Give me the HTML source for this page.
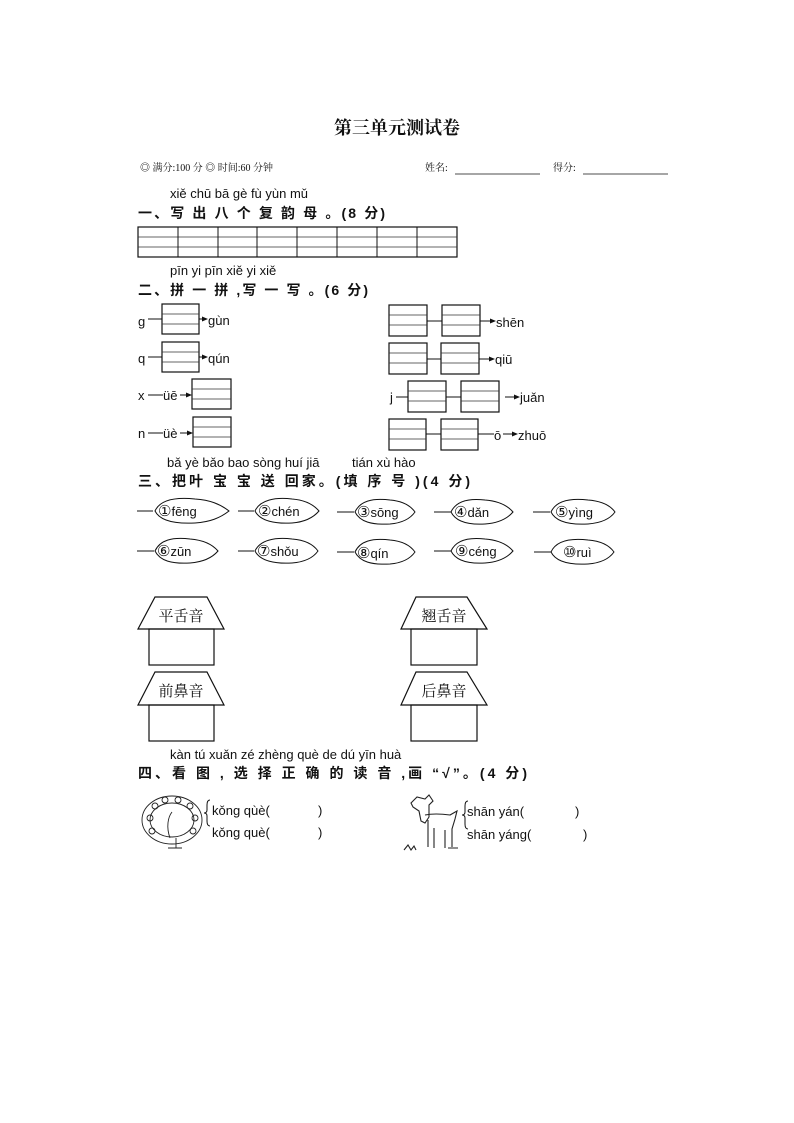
<!DOCTYPE html>
<html><head><meta charset="utf-8"><style>
html,body{margin:0;padding:0;background:#fff;}
svg{display:block}
.py{font-family:"Liberation Sans","DejaVu Sans",sans-serif;font-size:13px;fill:#111}
.hd{font-family:"Liberation Sans","Noto Sans CJK SC",sans-serif;font-size:14px;font-weight:bold;fill:#111}
.sm{font-family:"Liberation Serif","Noto Serif CJK SC",serif;font-size:10px;fill:#111}
.cj{font-family:"Liberation Serif","Noto Serif CJK SC",serif;font-size:15px;fill:#111}
.b{fill:none;stroke:#111;stroke-width:1.2}
.t{fill:none;stroke:#333;stroke-width:0.7}
.cn{font-family:"DejaVu Sans",sans-serif;font-size:15px}
</style></head><body>
<svg width="794" height="1123" viewBox="0 0 794 1123" xmlns="http://www.w3.org/2000/svg">
<defs>
<marker id="ar" markerWidth="6" markerHeight="6" refX="5" refY="3" orient="auto"><path d="M0,0.5 L6,3 L0,5.5z" fill="#111"/></marker>
</defs>
<text x="397" y="134" text-anchor="middle" font-family="Noto Serif CJK SC,serif" font-weight="bold" font-size="18" fill="#111">第三单元测试卷</text>
<text class="sm" x="140" y="171">◎ 满分:100 分  ◎ 时间:60 分钟</text>
<text class="sm" x="425" y="171" font-size="11">姓名:</text>
<line x1="455" y1="174" x2="540" y2="174" stroke="#111" stroke-width="0.8"/>
<text class="sm" x="553" y="171" font-size="11">得分:</text>
<line x1="583" y1="174" x2="668" y2="174" stroke="#111" stroke-width="0.8"/>

<text class="py" x="170" y="198">xiě chū bā gè  fù  yùn mǔ</text>
<text class="hd" x="138" y="218" textLength="247" lengthAdjust="spacing">一、写 出 八 个 复 韵 母 。(8 分)</text>
<rect class="b" x="138" y="227" width="319" height="30"/>
<line class="t" x1="138" y1="237" x2="457" y2="237"/><line class="t" x1="138" y1="247" x2="457" y2="247"/>
<g stroke="#111" stroke-width="1">
<line x1="178" y1="227" x2="178" y2="257"/><line x1="218" y1="227" x2="218" y2="257"/><line x1="257" y1="227" x2="257" y2="257"/><line x1="297" y1="227" x2="297" y2="257"/><line x1="337" y1="227" x2="337" y2="257"/><line x1="377" y1="227" x2="377" y2="257"/><line x1="417" y1="227" x2="417" y2="257"/>
</g>

<text class="py" x="170" y="275">pīn yi pīn  xiě yi xiě</text>
<text class="hd" x="138" y="295" textLength="230" lengthAdjust="spacing">二、拼 一 拼 ,写 一 写 。(6 分)</text>

<g>
<text class="py" x="138" y="326" font-size="15">g</text><line x1="148" y1="319" x2="162" y2="319" stroke="#111"/>
<rect class="b" x="162" y="304" width="37" height="30"/><line class="t" x1="162" y1="314" x2="199" y2="314"/><line class="t" x1="162" y1="324" x2="199" y2="324"/>
<line x1="199" y1="319" x2="207" y2="319" stroke="#111" marker-end="url(#ar)"/><text class="py" x="208" y="325" font-size="15">gùn</text>

<text class="py" x="138" y="363" font-size="15">q</text><line x1="148" y1="357" x2="162" y2="357" stroke="#111"/>
<rect class="b" x="162" y="342" width="37" height="30"/><line class="t" x1="162" y1="352" x2="199" y2="352"/><line class="t" x1="162" y1="362" x2="199" y2="362"/>
<line x1="199" y1="357" x2="207" y2="357" stroke="#111" marker-end="url(#ar)"/><text class="py" x="208" y="363" font-size="15">qún</text>

<text class="py" x="138" y="400" font-size="15">x</text><line x1="148" y1="395" x2="163" y2="395" stroke="#111"/><text class="py" x="163" y="400" font-size="15">üē</text>
<line x1="180" y1="395" x2="191" y2="395" stroke="#111" marker-end="url(#ar)"/>
<rect class="b" x="192" y="379" width="39" height="30"/><line class="t" x1="192" y1="389" x2="231" y2="389"/><line class="t" x1="192" y1="399" x2="231" y2="399"/>

<text class="py" x="138" y="438" font-size="15">n</text><line x1="148" y1="433" x2="163" y2="433" stroke="#111"/><text class="py" x="163" y="438" font-size="15">üè</text>
<line x1="180" y1="433" x2="192" y2="433" stroke="#111" marker-end="url(#ar)"/>
<rect class="b" x="193" y="417" width="38" height="30"/><line class="t" x1="193" y1="427" x2="231" y2="427"/><line class="t" x1="193" y1="437" x2="231" y2="437"/>
</g>

<g>
<rect class="b" x="389" y="305" width="38" height="31"/><line class="t" x1="389" y1="315" x2="427" y2="315"/><line class="t" x1="389" y1="325" x2="427" y2="325"/>
<line x1="427" y1="321" x2="442" y2="321" stroke="#111"/>
<rect class="b" x="442" y="305" width="38" height="31"/><line class="t" x1="442" y1="315" x2="480" y2="315"/><line class="t" x1="442" y1="325" x2="480" y2="325"/>
<line x1="480" y1="321" x2="495" y2="321" stroke="#111" marker-end="url(#ar)"/><text class="py" x="496" y="327" font-size="15">shēn</text>

<rect class="b" x="389" y="343" width="38" height="31"/><line class="t" x1="389" y1="353" x2="427" y2="353"/><line class="t" x1="389" y1="363" x2="427" y2="363"/>
<line x1="427" y1="359" x2="441" y2="359" stroke="#111"/>
<rect class="b" x="441" y="343" width="38" height="31"/><line class="t" x1="441" y1="353" x2="479" y2="353"/><line class="t" x1="441" y1="363" x2="479" y2="363"/>
<line x1="479" y1="359" x2="494" y2="359" stroke="#111" marker-end="url(#ar)"/><text class="py" x="495" y="364" font-size="15">qiū</text>

<text class="py" x="390" y="402" font-size="15">j</text><line x1="396" y1="397" x2="408" y2="397" stroke="#111"/>
<rect class="b" x="408" y="381" width="38" height="31"/><line class="t" x1="408" y1="391" x2="446" y2="391"/><line class="t" x1="408" y1="401" x2="446" y2="401"/>
<line x1="446" y1="397" x2="461" y2="397" stroke="#111"/>
<rect class="b" x="461" y="381" width="38" height="31"/><line class="t" x1="461" y1="391" x2="499" y2="391"/><line class="t" x1="461" y1="401" x2="499" y2="401"/>
<line x1="505" y1="397" x2="519" y2="397" stroke="#111" marker-end="url(#ar)"/><text class="py" x="520" y="402" font-size="15">juǎn</text>

<rect class="b" x="389" y="419" width="37" height="31"/><line class="t" x1="389" y1="429" x2="426" y2="429"/><line class="t" x1="389" y1="439" x2="426" y2="439"/>
<line x1="426" y1="434" x2="441" y2="434" stroke="#111"/>
<rect class="b" x="441" y="419" width="37" height="31"/><line class="t" x1="441" y1="429" x2="478" y2="429"/><line class="t" x1="441" y1="439" x2="478" y2="439"/>
<line x1="478" y1="434" x2="494" y2="434" stroke="#111"/><text class="py" x="494" y="440" font-size="15">ō</text>
<line x1="503" y1="434" x2="517" y2="434" stroke="#111" marker-end="url(#ar)"/><text class="py" x="518" y="440" font-size="15">zhuō</text>
</g>

<text class="py" x="167" y="467">bǎ yè bǎo bao sòng huí jiā</text>
<text class="py" x="352" y="467">tián xù hào</text>
<text class="hd" x="138" y="486" textLength="332" lengthAdjust="spacing">三、把叶 宝  宝  送  回家。(填 序 号 )(4 分)</text>

<g fill="none" stroke="#111" stroke-width="1">
<path d="M137,511 h16"/><path d="M155,511 C160,500 175,497 195,499 C210,500 220,504 229,511 C220,518 210,522 195,523 C175,524 160,521 155,511z"/>
<path d="M238,511 h16"/><path d="M255,511 C260,500 275,497 292,499 C305,500 313,504 319,511 C313,518 305,522 292,523 C275,524 260,521 255,511z"/>
<path d="M337,512 h17"/><path d="M355,512 C360,501 372,498 390,500 C402,501 410,505 415,512 C410,519 402,523 390,524 C372,525 360,522 355,512z"/>
<path d="M434,512 h17"/><path d="M451,512 C456,501 468,498 485,500 C498,501 507,505 513,512 C507,519 498,523 485,524 C468,525 456,522 451,512z"/>
<path d="M533,512 h17"/><path d="M551,512 C556,501 570,498 588,500 C601,501 610,505 615,512 C610,519 601,523 588,524 C570,525 556,522 551,512z"/>
<path d="M137,551 h17"/><path d="M155,551 C160,540 172,537 190,539 C203,540 212,544 218,551 C212,558 203,562 190,563 C172,564 160,561 155,551z"/>
<path d="M238,551 h16"/><path d="M255,551 C260,540 275,537 292,539 C305,540 313,544 318,551 C313,558 305,562 292,563 C275,564 260,561 255,551z"/>
<path d="M337,552 h17"/><path d="M355,552 C360,541 372,538 390,540 C402,541 410,545 415,552 C410,559 402,563 390,564 C372,565 360,562 355,552z"/>
<path d="M434,551 h17"/><path d="M451,551 C456,540 468,537 485,539 C498,540 507,544 513,551 C507,558 498,562 485,563 C468,564 456,561 451,551z"/>
<path d="M534,552 h17"/><path d="M551,552 C556,541 570,538 588,540 C601,541 609,545 614,552 C609,559 601,563 588,564 C570,565 556,562 551,552z"/>
</g>
<g class="py" font-size="15">
<text x="158" y="516"><tspan class="cn">①</tspan>fēng</text><text x="258" y="516"><tspan class="cn">②</tspan>chén</text><text x="357" y="517"><tspan class="cn">③</tspan>sōng</text><text x="454" y="517"><tspan class="cn">④</tspan>dǎn</text><text x="555" y="517"><tspan class="cn">⑤</tspan>yìng</text>
<text x="157" y="556"><tspan class="cn">⑥</tspan>zūn</text><text x="257" y="556"><tspan class="cn">⑦</tspan>shǒu</text><text x="357" y="558"><tspan class="cn">⑧</tspan>qín</text><text x="455" y="556"><tspan class="cn">⑨</tspan>céng</text><text x="563" y="557"><tspan class="cn">⑩</tspan>ruì</text>
</g>

<g fill="none" stroke="#111" stroke-width="1.2">
<path d="M155,597 H207 L224,629 H138 Z"/><rect x="149" y="629" width="65" height="36"/>
<path d="M416,597 H467 L487,629 H401 Z"/><rect x="411" y="629" width="66" height="36"/>
<path d="M155,672 H207 L224,705 H138 Z"/><rect x="149" y="705" width="65" height="36"/>
<path d="M416,672 H467 L487,705 H401 Z"/><rect x="411" y="705" width="66" height="36"/>
</g>
<g class="cj" text-anchor="middle">
<text x="181" y="621">平舌音</text><text x="444" y="621">翘舌音</text>
<text x="181" y="696">前鼻音</text><text x="444" y="696">后鼻音</text>
</g>

<text class="py" x="170" y="759">kàn tú   xuǎn zé zhèng què de dú yīn   huà</text>
<text class="hd" x="138" y="778" textLength="389" lengthAdjust="spacing">四、看 图 , 选 择  正  确 的 读 音 ,画 “√”。(4 分)</text>

<g fill="none" stroke="#222" stroke-width="0.9">
<ellipse cx="172" cy="820" rx="30" ry="24"/>
<ellipse cx="172" cy="820" rx="22" ry="17"/>
<circle cx="155" cy="806" r="3"/><circle cx="165" cy="800" r="3"/><circle cx="178" cy="800" r="3"/><circle cx="190" cy="806" r="3"/>
<circle cx="150" cy="818" r="3"/><circle cx="195" cy="818" r="3"/><circle cx="152" cy="831" r="3"/><circle cx="193" cy="831" r="3"/>
<path d="M172,812 c-4,5 -6,15 -2,26 M176,838 v10 M168,848 h14"/>
</g>
<path d="M210,800 q-3,0 -3,5 v5 q0,3 -3,3 q3,0 3,3 v5 q0,5 3,5" fill="none" stroke="#111"/>
<text class="py" x="212" y="815" font-size="14">kǒng qùè(</text><text class="py" x="318" y="815" font-size="14">)</text>
<text class="py" x="212" y="837" font-size="14">kǒng què(</text><text class="py" x="318" y="837" font-size="14">)</text>

<g fill="none" stroke="#222" stroke-width="1.1">
<path d="M411,803 l6,-6 l8,2 l4,-4 l4,6 l-4,4 l0,12 l-4,6 l-4,-2 l-2,-10 l-6,-4z"/>
<path d="M425,815 q10,-2 25,0 l7,-4 l-2,8 l-3,10 v18 M428,820 v27 M434,828 v20 M445,830 v18"/>
<path d="M404,850 l4,-5 l3,5 l3,-4 l2,4 M448,848 h10"/>
</g>
<path d="M468,801 q-3,0 -3,5 v6 q0,3 -3,3 q3,0 3,3 v6 q0,5 3,5" fill="none" stroke="#111"/>
<text class="py" x="467" y="816" font-size="14">shān yán(</text><text class="py" x="575" y="816" font-size="14">)</text>
<text class="py" x="467" y="839" font-size="14">shān yáng(</text><text class="py" x="583" y="839" font-size="14">)</text>
</svg>
</body></html>
